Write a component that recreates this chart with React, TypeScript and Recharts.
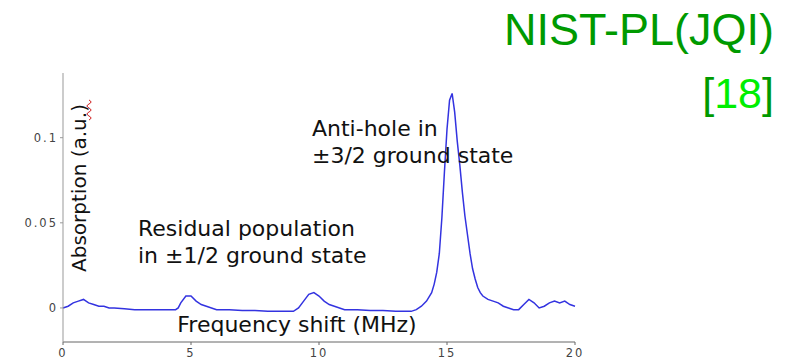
import { LineChart, Line, XAxis, YAxis } from "recharts";

const freq = [
  0, 0.2, 0.4, 0.6, 0.8, 1.0, 1.2, 1.4, 1.6, 1.8, 2.0, 2.4, 2.8, 3.2, 3.6, 4.0, 4.4,
  4.5, 4.6, 4.8, 5.0, 5.2, 5.4, 5.6, 5.8, 6.0, 6.5, 7.0, 7.5, 8.0, 8.5, 9.0,
  9.2, 9.4, 9.6, 9.8, 10.0, 10.2, 10.4, 10.6, 10.8, 11.0, 11.5, 12.0, 12.5, 13.0,
  13.4, 13.6, 13.8, 14.0, 14.2, 14.4, 14.5, 14.6, 14.7, 14.8, 14.9, 15.0, 15.1,
  15.2, 15.3, 15.4, 15.5, 15.6, 15.7, 15.8, 15.9, 16.0, 16.1, 16.2, 16.3, 16.4,
  16.6, 16.8, 17.0, 17.2, 17.4, 17.6, 17.8, 18.0, 18.2, 18.4, 18.6, 18.8, 19.0,
  19.2, 19.4, 19.6, 19.8, 20.0,
];

const absorption = [
  0.0, 0.001, 0.003, 0.004, 0.005, 0.003, 0.002, 0.001, 0.001, 0.0, 0.0, -0.0005, -0.001, -0.001, -0.001, -0.001, -0.001,
  0.0, 0.003, 0.007, 0.007, 0.004, 0.002, 0.001, 0.0, -0.001, -0.001, -0.0015, -0.0015, -0.002, -0.002, -0.002,
  0.0, 0.004, 0.008, 0.009, 0.007, 0.004, 0.002, 0.001, 0.0, -0.001, -0.001, -0.0015, -0.0015, -0.002,
  -0.002, -0.002, -0.001, 0.001, 0.004, 0.009, 0.014, 0.021, 0.032, 0.053, 0.08, 0.105, 0.122,
  0.126, 0.115, 0.098, 0.084, 0.068, 0.054, 0.043, 0.032, 0.023, 0.017, 0.012, 0.009, 0.007,
  0.005, 0.004, 0.003, 0.001, 0.0, -0.001, -0.001, 0.002, 0.005, 0.003, 0.0, 0.001, 0.003,
  0.004, 0.003, 0.004, 0.002, 0.001,
];

const xTicks = [0, 5, 10, 15, 20];
const yTicks = [0, 0.05, 0.1];

const data = freq.map((f, i) => ({ f, a: absorption[i] }));

const annoFont = "'DejaVu Sans', Verdana, sans-serif";
const tickStyle = { fontSize: 11.5, fill: "#444", fontFamily: annoFont, letterSpacing: 2 };

export default function App() {
  return (
    <div style={{ position: "absolute", left: 0, top: 0, width: 793, height: 360, background: "#fff" }}>
      <LineChart
        width={793}
        height={360}
        data={data}
        margin={{ top: 73, right: 218, bottom: 0, left: 0 }}
      >
        <XAxis
          dataKey="f"
          type="number"
          domain={[0, 20]}
          ticks={xTicks}
          height={18}
          tickSize={3}
          tickMargin={4}
          tick={tickStyle}
          stroke="#666"
        />
        <YAxis
          type="number"
          domain={[-0.02, 0.138]}
          ticks={yTicks}
          width={63}
          tickSize={3}
          tick={tickStyle}
          stroke="#999"
          allowDataOverflow
        />
        <Line
          type="linear"
          dataKey="a"
          stroke="#3333e0"
          strokeWidth={1.5}
          dot={false}
          isAnimationActive={false}
        />
      </LineChart>
      <svg
        width={793}
        height={360}
        style={{ position: "absolute", left: 0, top: 0, pointerEvents: "none" }}
      >
        <g fontFamily={annoFont} fontSize={22} fill="#111">
          <text x={312} y={136}>Anti-hole in</text>
          <text x={312} y={163}>±3/2 ground state</text>
          <text x={138} y={236}>Residual population</text>
          <text x={138} y={263}>in ±1/2 ground state</text>
          <text x={297} y={332} textAnchor="middle">Frequency shift (MHz)</text>
        </g>
        <text
          x={86}
          y={188}
          fontFamily={annoFont}
          fontSize={20}
          fill="#111"
          textAnchor="middle"
          transform="rotate(-90 86 188)"
        >
          Absorption (a.u.)
        </text>
        <path
          d="M89 100 q4 2 0 4 q-4 2 0 4 q4 2 0 4 q-4 2 0 4 q4 2 0 4"
          fill="none"
          stroke="#d02020"
          strokeWidth={1}
        />
        <g fontFamily="'Liberation Sans', Arial, sans-serif" textAnchor="end">
          <text x={774} y={45} fontSize={45} fill="#009a00">NIST-PL(JQI)</text>
          <text x={774} y={108} fontSize={43} fill="#009a00">
            [<tspan fill="#00ee00">18</tspan>]
          </text>
        </g>
      </svg>
    </div>
  );
}
